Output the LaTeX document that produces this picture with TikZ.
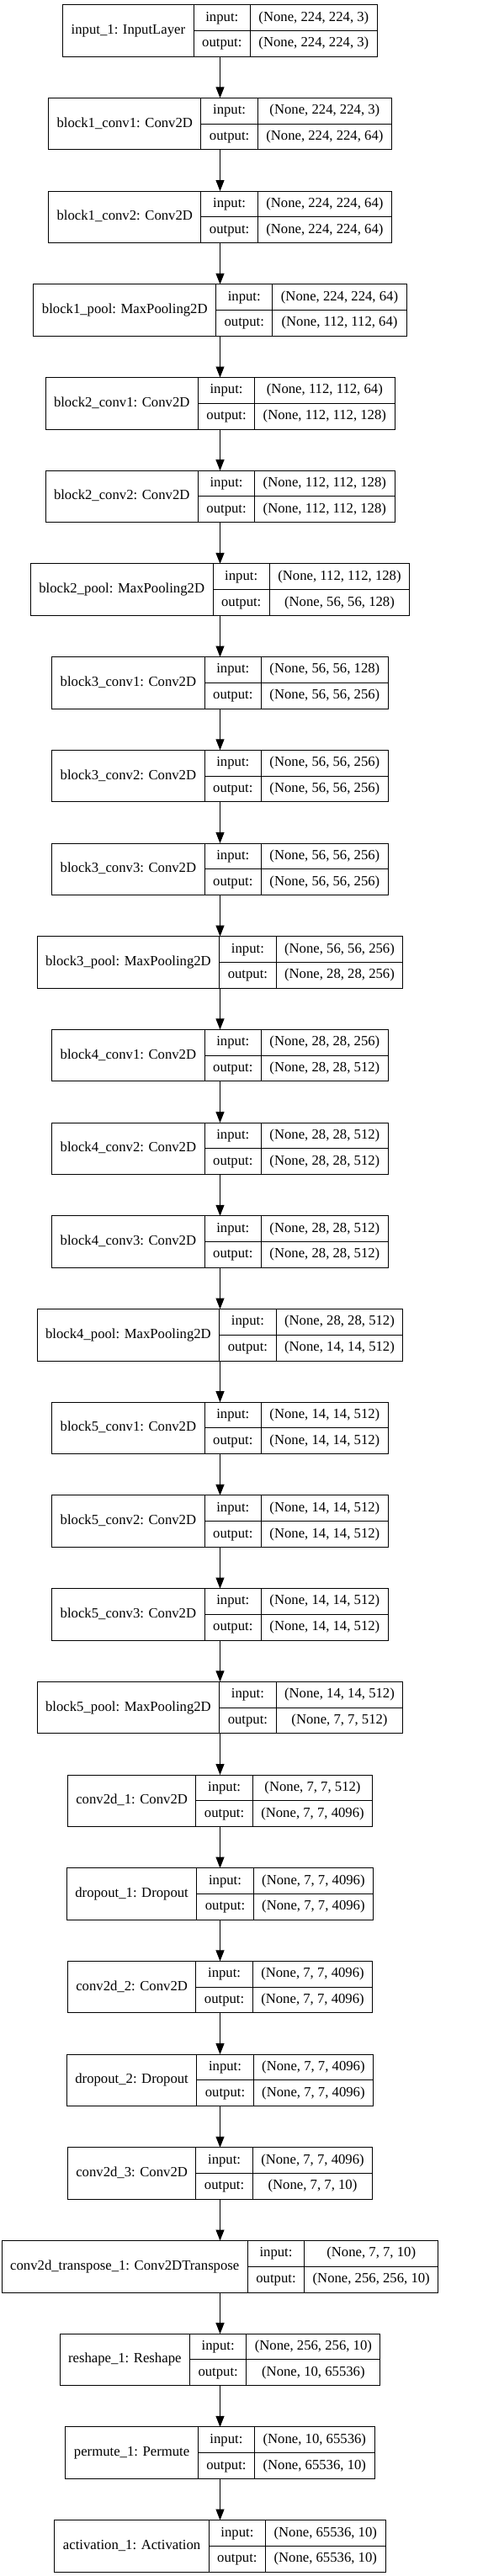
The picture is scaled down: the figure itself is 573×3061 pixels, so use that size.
\documentclass[tikz,border=0pt]{standalone}
\usepackage{fontspec}
\setmainfont{Liberation Serif}
\usetikzlibrary{arrows.meta}
\newcommand\lfont{\fontsize{16.7pt}{20pt}\selectfont}
\newlength\LayLenA \newlength\LayLenB \newlength\LayLenC \newlength\LayLenM
\tikzset{
  rec/.style={draw=black, line width=1pt, inner sep=0pt, outer sep=0pt, minimum height=61.5pt},
  cell/.style={draw=black, line width=1pt, inner sep=0pt, outer sep=0pt, minimum height=30.75pt,
    font=\lfont, text height=11.5pt, text depth=3.5pt, align=center},
  arr/.style={draw=black, line width=1pt, -{Triangle[length=13pt,width=10pt]}}
}
% first pass (outside the picture): measure the texts
\newcommand\measurelayer[5]{%
  \settowidth\LayLenA{\lfont #2}%
  \settowidth\LayLenB{\lfont #3}%
  \settowidth\LayLenC{\lfont #4}%
  \ifdim\LayLenC>\LayLenB \LayLenB=\LayLenC\fi
  \advance\LayLenA by 20pt
  \advance\LayLenB by 20pt
  \expandafter\xdef\csname LW#1a\endcsname{\the\LayLenA}%
  \expandafter\xdef\csname LW#1c\endcsname{\the\LayLenB}%
  \LayLenC=\LayLenA \advance\LayLenC by \LayLenM \advance\LayLenC by \LayLenB
  \expandafter\xdef\csname LW#1t\endcsname{\the\LayLenC}%
}
% second pass (inside the picture): draw
\newcommand\drawlayer[5]{%
  \pgfmathsetmacro\LayYc{36.45+110.7*#5}%
  \node[rec, minimum width=\csname LW#1t\endcsname] (#1) at (261.5,\LayYc) {};
  \node[cell, minimum width=\csname LW#1a\endcsname, minimum height=61.5pt, anchor=north west] (#1-n) at (#1.north west) {#2};
  \node[cell, minimum width=\LayWb, anchor=north west] (#1-i) at (#1-n.north east) {input:};
  \node[cell, minimum width=\LayWb, anchor=north west] (#1-o) at (#1-i.south west) {output:};
  \node[cell, minimum width=\csname LW#1c\endcsname, anchor=north west] (#1-is) at (#1-i.north east) {#3};
  \node[cell, minimum width=\csname LW#1c\endcsname, anchor=north west] (#1-os) at (#1-is.south west) {#4};
}
\newcommand\LayerList{%
\Lay{L0}{input\_1: InputLayer}{(None, 224, 224, 3)}{(None, 224, 224, 3)}{0}
\Lay{L1}{block1\_conv1: Conv2D}{(None, 224, 224, 3)}{(None, 224, 224, 64)}{1}
\Lay{L2}{block1\_conv2: Conv2D}{(None, 224, 224, 64)}{(None, 224, 224, 64)}{2}
\Lay{L3}{block1\_pool: MaxPooling2D}{(None, 224, 224, 64)}{(None, 112, 112, 64)}{3}
\Lay{L4}{block2\_conv1: Conv2D}{(None, 112, 112, 64)}{(None, 112, 112, 128)}{4}
\Lay{L5}{block2\_conv2: Conv2D}{(None, 112, 112, 128)}{(None, 112, 112, 128)}{5}
\Lay{L6}{block2\_pool: MaxPooling2D}{(None, 112, 112, 128)}{(None, 56, 56, 128)}{6}
\Lay{L7}{block3\_conv1: Conv2D}{(None, 56, 56, 128)}{(None, 56, 56, 256)}{7}
\Lay{L8}{block3\_conv2: Conv2D}{(None, 56, 56, 256)}{(None, 56, 56, 256)}{8}
\Lay{L9}{block3\_conv3: Conv2D}{(None, 56, 56, 256)}{(None, 56, 56, 256)}{9}
\Lay{L10}{block3\_pool: MaxPooling2D}{(None, 56, 56, 256)}{(None, 28, 28, 256)}{10}
\Lay{L11}{block4\_conv1: Conv2D}{(None, 28, 28, 256)}{(None, 28, 28, 512)}{11}
\Lay{L12}{block4\_conv2: Conv2D}{(None, 28, 28, 512)}{(None, 28, 28, 512)}{12}
\Lay{L13}{block4\_conv3: Conv2D}{(None, 28, 28, 512)}{(None, 28, 28, 512)}{13}
\Lay{L14}{block4\_pool: MaxPooling2D}{(None, 28, 28, 512)}{(None, 14, 14, 512)}{14}
\Lay{L15}{block5\_conv1: Conv2D}{(None, 14, 14, 512)}{(None, 14, 14, 512)}{15}
\Lay{L16}{block5\_conv2: Conv2D}{(None, 14, 14, 512)}{(None, 14, 14, 512)}{16}
\Lay{L17}{block5\_conv3: Conv2D}{(None, 14, 14, 512)}{(None, 14, 14, 512)}{17}
\Lay{L18}{block5\_pool: MaxPooling2D}{(None, 14, 14, 512)}{(None, 7, 7, 512)}{18}
\Lay{L19}{conv2d\_1: Conv2D}{(None, 7, 7, 512)}{(None, 7, 7, 4096)}{19}
\Lay{L20}{dropout\_1: Dropout}{(None, 7, 7, 4096)}{(None, 7, 7, 4096)}{20}
\Lay{L21}{conv2d\_2: Conv2D}{(None, 7, 7, 4096)}{(None, 7, 7, 4096)}{21}
\Lay{L22}{dropout\_2: Dropout}{(None, 7, 7, 4096)}{(None, 7, 7, 4096)}{22}
\Lay{L23}{conv2d\_3: Conv2D}{(None, 7, 7, 4096)}{(None, 7, 7, 10)}{23}
\Lay{L24}{conv2d\_transpose\_1: Conv2DTranspose}{(None, 7, 7, 10)}{(None, 256, 256, 10)}{24}
\Lay{L25}{reshape\_1: Reshape}{(None, 256, 256, 10)}{(None, 10, 65536)}{25}
\Lay{L26}{permute\_1: Permute}{(None, 10, 65536)}{(None, 65536, 10)}{26}
\Lay{L27}{activation\_1: Activation}{(None, 65536, 10)}{(None, 65536, 10)}{27}%
}
\begin{document}
\settowidth\LayLenM{\lfont output:}%
\advance\LayLenM by 20pt
\edef\LayWb{\the\LayLenM}%
\let\Lay\measurelayer
\LayerList
\let\Lay\drawlayer
\begin{tikzpicture}[x=1pt,y=-1pt]
\useasboundingbox (0,0) rectangle (573,3061);
\fill[white] (0,0) rectangle (573,3061);
\LayerList
\foreach \a/\b in {L0/L1,L1/L2,L2/L3,L3/L4,L4/L5,L5/L6,L6/L7,L7/L8,L8/L9,L9/L10,L10/L11,L11/L12,L12/L13,L13/L14,L14/L15,L15/L16,L16/L17,L17/L18,L18/L19,L19/L20,L20/L21,L21/L22,L22/L23,L23/L24,L24/L25,L25/L26,L26/L27}
  \draw[arr] (\a) -- (\b);
\end{tikzpicture}
\end{document}
